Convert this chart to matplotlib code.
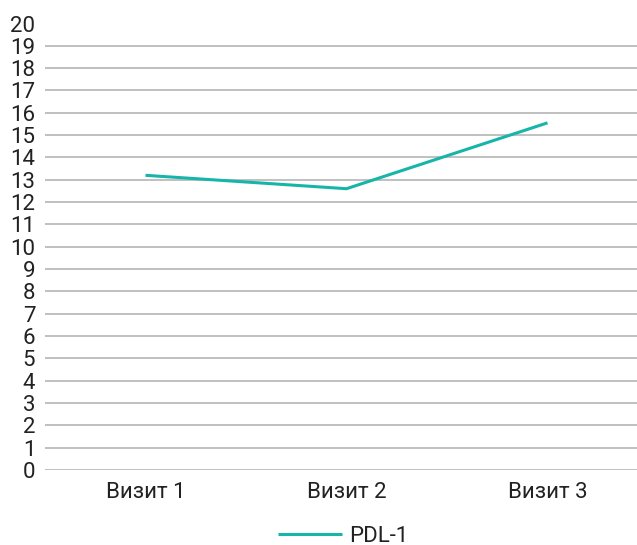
import matplotlib.pyplot as plt
from matplotlib import font_manager

visits = ["Визит 1", "Визит 2", "Визит 3"]
pdl1 = [13.2, 12.6, 15.55]
y_ticks = list(range(0, 21))

family = ["Liberation Sans Narrow", "DejaVu Sans"]
names = {f.name for f in font_manager.fontManager.ttflist}
if "Liberation Sans Narrow" not in names:
    family = ["Roboto", "DejaVu Sans"]
plt.rcParams["font.family"] = family

fig = plt.figure(figsize=(6.37, 5.45), dpi=100)
ax = fig.add_axes([45 / 637, 1 - 470 / 545, 592 / 637, 446.5 / 545])

x = list(range(len(visits)))
ax.plot(x, pdl1, color="#17b5a9", linewidth=2.2, label="PDL-1",
        solid_capstyle="butt")

ax.set_xlim(-0.5, -0.5 + 592 / 201)
ax.set_ylim(0, 20)
ax.set_yticks(y_ticks)
ax.set_yticklabels([str(v) for v in y_ticks])
ax.set_xticks(x)
ax.set_xticklabels(visits)

for v in y_ticks:
    ax.axhline(v, color="#b5b5b5", linewidth=1.2, zorder=0)

for side in ax.spines.values():
    side.set_visible(False)
ax.tick_params(axis="both", length=0, labelsize=16, colors="#222222")
ax.tick_params(axis="y", pad=7)
ax.tick_params(axis="x", pad=9)

fig.legend(loc="center", bbox_to_anchor=(343 / 637, 1 - 536 / 545),
           frameon=False, fontsize=16, handlelength=2.9, handletextpad=0.3,
           labelcolor="#222222")

fig.savefig("out.png", dpi=100)
